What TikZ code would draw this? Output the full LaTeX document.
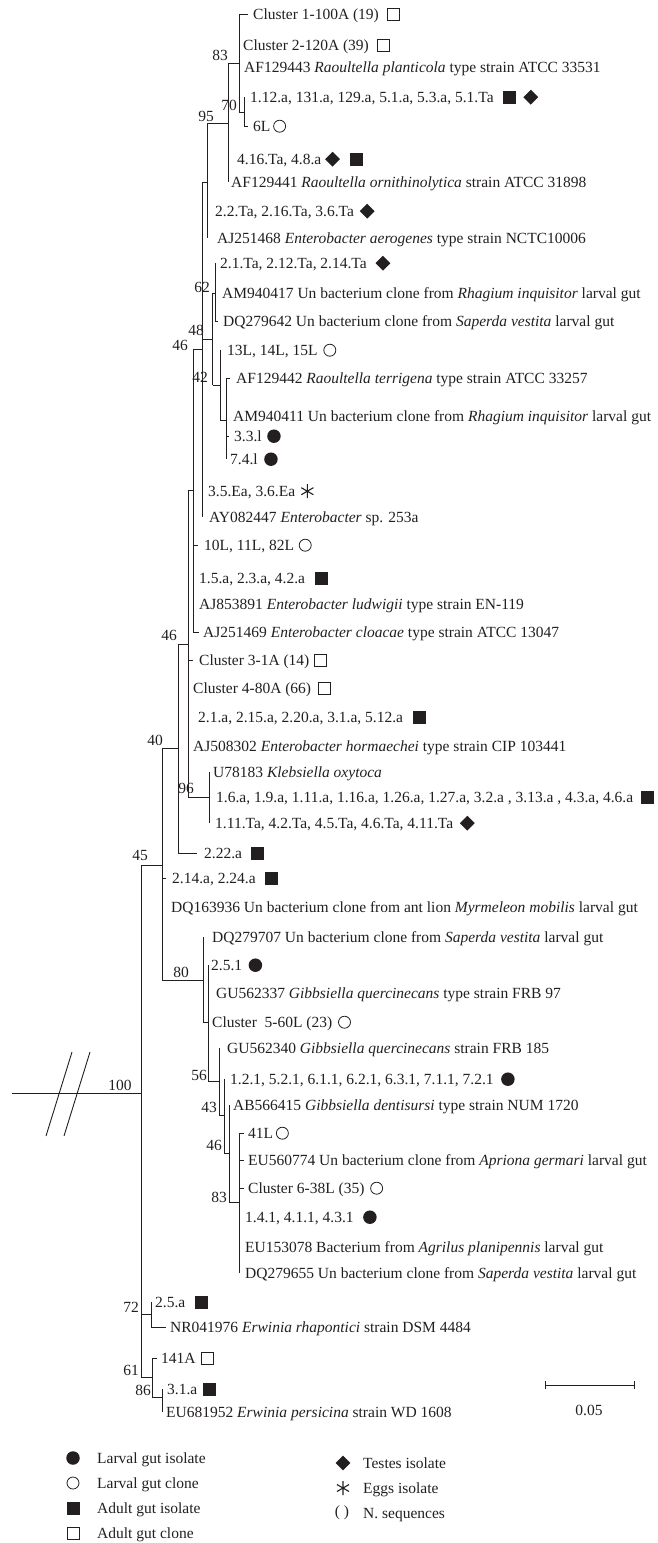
\documentclass[tikz,border=0pt]{standalone}
\usepackage{fontspec}
\setmainfont{Liberation Serif}
\usetikzlibrary{shapes.geometric}
\definecolor{ink}{HTML}{231F20}
\newcommand\tsym[4]{\node[#1] (#2) at ([xshift=#3pt,yshift=5pt]#4.base east) {};}
\begin{document}
\begin{tikzpicture}[x=1pt,y=-1pt,
  br/.style={draw=ink, line width=0.9pt},
  tip/.style={anchor=base west, inner sep=0pt, yshift=-5.2pt, font=\fontsize{15.5}{18}\selectfont, text=ink},
  bs/.style={inner sep=0pt, font=\fontsize{15.5}{18}\selectfont, text=ink},
  fsq/.style={rectangle, fill=ink, minimum size=13pt, inner sep=0pt},
  osq/.style={rectangle, draw=ink, line width=0.8pt, minimum size=12pt, inner sep=0pt},
  fci/.style={circle, fill=ink, minimum size=13.5pt, inner sep=0pt},
  oci/.style={circle, draw=ink, line width=0.8pt, minimum size=12pt, inner sep=0pt},
  dia/.style={diamond, fill=ink, minimum size=15pt, inner sep=0pt, aspect=1},
  ast/.pic={\draw[ink, line width=1.1pt] (0,-7) -- (0,7) (-6.06,-3.5) -- (6.06,3.5) (-6.06,3.5) -- (6.06,-3.5);}
]
\useasboundingbox (0,0) rectangle (657,1543);

% ---------- internal nodes ----------
\coordinate (n83) at (239.3,63);
\coordinate (n70) at (244.3,112);
\coordinate (n95) at (228.7,123);
\coordinate (nA) at (207.7,182);
\coordinate (nB) at (202.7,349);
\coordinate (n48) at (212.7,339);
\coordinate (n62) at (215,293);
\coordinate (n42) at (220.7,385);
\coordinate (nY) at (226,420);
\coordinate (nC) at (193.3,490);
\coordinate (n46b) at (188.3,644);
\coordinate (n96) at (209,797);
\coordinate (n40) at (178.3,748);
\coordinate (n45) at (162.3,865);
\coordinate (n80) at (203.3,980);
\coordinate (nD) at (208.3,1022);
\coordinate (n56) at (219.3,1081);
\coordinate (n43) at (224.3,1115);
\coordinate (n46c) at (229.3,1153);
\coordinate (n83b) at (239.3,1202);
\coordinate (root) at (141.7,1093);
\coordinate (rootL) at (12,1093);
\coordinate (n72) at (151,1314);
\coordinate (n61) at (152,1377);
\coordinate (n86) at (162,1397);

% ---------- tips ----------
\coordinate (e1) at (248,14);   \node[tip] (t1) at (253,14) {Cluster 1-100A (19)};
\coordinate (e2) at (239.3,45); \node[tip] (t2) at (243,45) {Cluster 2-120A (39)};
\coordinate (e3) at (239.3,67); \node[tip] (t3) at (244,67) {AF129443 \textit{Raoultella planticola} type strain ATCC 33531};
\coordinate (e4) at (244.3,97); \node[tip] (t4) at (250,97) {1.12.a, 131.a, 129.a, 5.1.a, 5.3.a, 5.1.Ta};
\coordinate (e5) at (248,126);  \node[tip] (t5) at (253,126) {6L};
\coordinate (e6) at (228.7,159); \node[tip] (t6) at (237,159) {4.16.Ta, 4.8.a};
\coordinate (e7) at (228.7,182); \node[tip] (t7) at (231,182) {AF129441 \textit{Raoultella ornithinolytica} strain ATCC 31898};
\coordinate (e8) at (207.7,211); \node[tip] (t8) at (215,211) {2.2.Ta, 2.16.Ta, 3.6.Ta};
\coordinate (e9) at (207.7,238); \node[tip] (t9) at (217,238) {AJ251468 \textit{Enterobacter aerogenes} type strain NCTC10006};
\coordinate (e10) at (215,263); \node[tip] (t10) at (220,263) {2.1.Ta, 2.12.Ta, 2.14.Ta};
\coordinate (e11) at (215,293); \node[tip] (t11) at (222,293) {AM940417 Un bacterium clone from \textit{Rhagium inquisitor} larval gut};
\coordinate (e12) at (218,321); \node[tip] (t12) at (223,321) {DQ279642 Un bacterium clone from \textit{Saperda vestita} larval gut};
\coordinate (e13) at (220.7,350); \node[tip] (t13) at (227,350) {13L, 14L, 15L};
\coordinate (e14) at (230,378); \node[tip] (t14) at (236,378) {AF129442 \textit{Raoultella terrigena} type strain ATCC 33257};
\coordinate (e15) at (226,416); \node[tip] (t15) at (233,416) {AM940411 Un bacterium clone from \textit{Rhagium inquisitor} larval gut};
\coordinate (e16) at (229,436); \node[tip] (t16) at (234,436) {3.3.l};
\coordinate (e17) at (226,459); \node[tip] (t17) at (230,459) {7.4.l};
\coordinate (e18) at (202.7,491); \node[tip] (t18) at (208,491) {3.5.Ea, 3.6.Ea};
\coordinate (e19) at (202.7,517); \node[tip] (t19) at (209,517) {AY082447 \textit{Enterobacter} sp. 253a};
\coordinate (e20) at (198,545); \node[tip] (t20) at (204,545) {10L, 11L, 82L};
\coordinate (e21) at (193.3,578); \node[tip] (t21) at (199,578) {1.5.a, 2.3.a, 4.2.a};
\coordinate (e22) at (193.3,604); \node[tip] (t22) at (199,604) {AJ853891 \textit{Enterobacter ludwigii} type strain EN-119};
\coordinate (e23) at (199,632); \node[tip] (t23) at (203,632) {AJ251469 \textit{Enterobacter cloacae} type strain ATCC 13047};
\coordinate (e24) at (193,660); \node[tip] (t24) at (199,660) {Cluster 3-1A (14)};
\coordinate (e25) at (188.3,688); \node[tip] (t25) at (193,688) {Cluster 4-80A (66)};
\coordinate (e26) at (188.3,717); \node[tip] (t26) at (198,717) {2.1.a, 2.15.a, 2.20.a, 3.1.a, 5.12.a};
\coordinate (e27) at (188.3,746); \node[tip] (t27) at (193,746) {AJ508302 \textit{Enterobacter hormaechei} type strain CIP 103441};
\coordinate (e28) at (209,772); \node[tip] (t28) at (213,772) {U78183 \textit{Klebsiella oxytoca}};
\coordinate (e29) at (209,797); \node[tip] (t29) at (216,797) {1.6.a, 1.9.a, 1.11.a, 1.16.a, 1.26.a, 1.27.a, 3.2.a , 3.13.a , 4.3.a, 4.6.a};
\coordinate (e30) at (209,823); \node[tip] (t30) at (215,823) {1.11.Ta, 4.2.Ta, 4.5.Ta, 4.6.Ta, 4.11.Ta};
\coordinate (e31) at (197,853); \node[tip] (t31) at (204,853) {2.22.a};
\coordinate (e32) at (166,878); \node[tip] (t32) at (172,878) {2.14.a, 2.24.a};
\coordinate (e33) at (162.3,907); \node[tip] (t33) at (171,907) {DQ163936 Un bacterium clone from ant lion \textit{Myrmeleon mobilis} larval gut};
\coordinate (e34) at (203.3,937); \node[tip] (t34) at (212,937) {DQ279707 Un bacterium clone from \textit{Saperda vestita} larval gut};
\coordinate (e35) at (208.3,965); \node[tip] (t35) at (211,965) {2.5.1};
\coordinate (e36) at (208.3,993); \node[tip] (t36) at (216,993) {GU562337 \textit{Gibbsiella quercinecans} type strain FRB 97};
\coordinate (e37) at (208.3,1022); \node[tip] (t37) at (212,1022) {Cluster\ \ 5-60L (23)};
\coordinate (e38) at (219.3,1048); \node[tip] (t38) at (227,1048) {GU562340 \textit{Gibbsiella quercinecans} strain FRB 185};
\coordinate (e39) at (224.3,1079); \node[tip] (t39) at (230,1079) {1.2.1, 5.2.1, 6.1.1, 6.2.1, 6.3.1, 7.1.1, 7.2.1};
\coordinate (e40) at (229.3,1105); \node[tip] (t40) at (233,1105) {AB566415 \textit{Gibbsiella dentisursi} type strain NUM 1720};
\coordinate (e41) at (244,1133); \node[tip] (t41) at (248,1133) {41L};
\coordinate (e42) at (244,1160); \node[tip] (t42) at (248,1160) {EU560774 Un bacterium clone from \textit{Apriona germari} larval gut};
\coordinate (e43) at (244,1188); \node[tip] (t43) at (248,1188) {Cluster 6-38L (35)};
\coordinate (e44) at (239.3,1217); \node[tip] (t44) at (245,1217) {1.4.1, 4.1.1, 4.3.1};
\coordinate (e45) at (239.3,1247); \node[tip] (t45) at (245,1247) {EU153078 Bacterium from \textit{Agrilus planipennis} larval gut};
\coordinate (e46) at (239.3,1273); \node[tip] (t46) at (245,1273) {DQ279655 Un bacterium clone from \textit{Saperda vestita} larval gut};
\coordinate (e47) at (151,1302); \node[tip] (t47) at (155,1302) {2.5.a};
\coordinate (e48) at (166,1327); \node[tip] (t48) at (170,1327) {NR041976 \textit{Erwinia rhapontici} strain DSM 4484};
\coordinate (e49) at (157,1358); \node[tip] (t49) at (161,1358) {141A};
\coordinate (e50) at (162,1389); \node[tip] (t50) at (167,1389) {3.1.a};
\coordinate (e51) at (162,1412); \node[tip] (t51) at (166,1412) {EU681952 \textit{Erwinia persicina} strain WD 1608};

% ---------- symbols ----------
\tsym{osq}{s1}{14}{t1}
\tsym{osq}{s2}{14}{t2}
\tsym{fsq}{s4a}{16}{t4}
\tsym{dia}{s4b}{37}{t4}
\tsym{oci}{s5}{9}{t5}
\tsym{dia}{s6a}{11}{t6}
\tsym{fsq}{s6b}{35}{t6}
\tsym{dia}{s8}{13}{t8}
\tsym{dia}{s10}{16}{t10}
\tsym{oci}{s13}{12}{t13}
\tsym{fci}{s16}{12}{t16}
\tsym{fci}{s17}{13}{t17}
\coordinate (s18) at ([xshift=12pt,yshift=5pt]t18.base east); \pic at (s18) {ast};
\tsym{oci}{s20}{11}{t20}
\tsym{fsq}{s21}{16}{t21}
\tsym{osq}{s24}{11}{t24}
\tsym{osq}{s25}{13}{t25}
\tsym{fsq}{s26}{16}{t26}
\tsym{fsq}{s29}{14}{t29}
\tsym{dia}{s30}{14}{t30}
\tsym{fsq}{s31}{15}{t31}
\tsym{fsq}{s32}{16}{t32}
\tsym{fci}{s35}{13}{t35}
\tsym{oci}{s37}{12}{t37}
\tsym{fci}{s39}{14}{t39}
\tsym{oci}{s41}{9}{t41}
\tsym{oci}{s43}{12}{t43}
\tsym{fci}{s44}{16}{t44}
\tsym{fsq}{s47}{16}{t47}
\tsym{osq}{s49}{12}{t49}
\tsym{fsq}{s50}{12}{t50}

% ---------- branches ----------
\draw[br] (n83 |- e1) -- (n83 |- n70);
\draw[br] (n83 |- e1) -- (e1);
\draw[br] (n83 |- n70) -- (n70);
\draw[br] (n70 |- e4) -- (n70 |- e5) -- (e5);
\draw[br] (n95 |- n83) -- (n95 |- e7);
\draw[br] (n95 |- n83) -- (n83);
\draw[br] (nA |- n95) -- (nA |- e9);
\draw[br] (nA |- n95) -- (n95);
\draw[br] (nB |- nA) -- (nB |- e19);
\draw[br] (nB |- nA) -- (nA);
\draw[br] (nB |- n48) -- (n48);
\draw[br] (n48 |- n62) -- (n48 |- n42);
\draw[br] (n48 |- n62) -- (n62);
\draw[br] (n48 |- n42) -- (n42);
\draw[br] (n62 |- e10) -- (n62 |- e12) -- (e12);
\draw[br] (n42 |- e13) -- (n42 |- nY) -- (nY);
\draw[br] (nY |- e14) -- (nY |- e17);
\draw[br] (nY |- e14) -- (e14);
\draw[br] (nY |- e16) -- (e16);
\draw[br] (nC |- nB) -- (nC |- e23) -- (e23);
\draw[br] (nC |- nB) -- (nB);
\draw[br] (nC |- e20) -- (e20);
\draw[br] (n46b |- nC) -- (n46b |- n96) -- (n96);
\draw[br] (n46b |- nC) -- (nC);
\draw[br] (n46b |- e24) -- (e24);
\draw[br] (n96 |- e28) -- (n96 |- e30);
\draw[br] (n40 |- n46b) -- (n40 |- e31) -- (e31);
\draw[br] (n40 |- n46b) -- (n46b);
\draw[br] (n45 |- n40) -- (n45 |- n80) -- (n80);
\draw[br] (n45 |- n40) -- (n40);
\draw[br] (n45 |- e32) -- (e32);
\draw[br] (n80 |- e34) -- (n80 |- nD) -- (nD);
\draw[br] (nD |- e35) -- (nD |- n56) -- (n56);
\draw[br] (n56 |- e38) -- (n56 |- n43) -- (n43);
\draw[br] (n43 |- e39) -- (n43 |- n46c) -- (n46c);
\draw[br] (n46c |- e40) -- (n46c |- n83b) -- (n83b);
\draw[br] (n83b |- e41) -- (n83b |- e46);
\draw[br] (n83b |- e41) -- (e41);
\draw[br] (n83b |- e42) -- (e42);
\draw[br] (n83b |- e43) -- (e43);
\draw[br] (rootL) -- (root);
\draw[br] (root |- n45) -- (root |- n61) -- (n61);
\draw[br] (root |- n45) -- (n45);
\draw[br] (root |- n72) -- (n72);
\draw[br] (n72 |- e47) -- (n72 |- e48) -- (e48);
\draw[br] (n61 |- e49) -- (n61 |- n86) -- (n86);
\draw[br] (n61 |- e49) -- (e49);
\draw[br] (n86 |- e50) -- (n86 |- e51);

% break marks on root
\coordinate (k1a) at (72,1052); \coordinate (k1b) at (46,1136);
\coordinate (k2a) at (90,1052); \coordinate (k2b) at (64,1136);
\draw[br] (k1a) -- (k1b);
\draw[br] (k2a) -- (k2b);

% ---------- bootstrap values ----------
\node[bs] (b83) at (220,55) {83};
\node[bs] (b70) at (229,105) {70};
\node[bs] (b95) at (206,116) {95};
\node[bs] (b62) at (202,287) {62};
\node[bs] (b48) at (196,330) {48};
\node[bs] (b46a) at (180,345) {46};
\node[bs] (b42) at (200,377) {42};
\node[bs] (b46b) at (169,635) {46};
\node[bs] (b40) at (155,740) {40};
\node[bs] (b96) at (186,788) {96};
\node[bs] (b45) at (140,855) {45};
\node[bs] (b80) at (181,972) {80};
\node[bs] (b56) at (199,1075) {56};
\node[bs] (b43) at (209,1107) {43};
\node[bs] (b46c) at (214,1145) {46};
\node[bs] (b83b) at (219,1197) {83};
\node[bs] (b100) at (120,1085) {100};
\node[bs] (b72) at (131,1307) {72};
\node[bs] (b61) at (131,1370) {61};
\node[bs] (b86) at (143,1390) {86};

% ---------- scale bar ----------
\coordinate (sbL) at (545,1385); \coordinate (sbR) at (634,1385);
\draw[br] (sbL) -- (sbR);
\draw[br] ([yshift=4pt]sbL) -- ([yshift=-4pt]sbL);
\draw[br] ([yshift=4pt]sbR) -- ([yshift=-4pt]sbR);
\node[bs] (sbt) at (589,1410) {0.05};

% ---------- legend ----------
\node[fci] (L1) at (73,1458) {}; \node[tip] (L1t) at (97,1458) {Larval gut isolate};
\node[oci] (L2) at (73,1483) {}; \node[tip] (L2t) at (97,1483) {Larval gut clone};
\node[fsq] (L3) at (73,1508) {}; \node[tip] (L3t) at (97,1508) {Adult gut isolate};
\node[osq] (L4) at (73,1533) {}; \node[tip] (L4t) at (97,1533) {Adult gut clone};
\node[dia] (R1) at (343,1463) {}; \node[tip] (R1t) at (363,1463) {Testes isolate};
\coordinate (R2) at (343,1488); \pic at (R2) {ast}; \node[tip] (R2t) at (363,1488) {Eggs isolate};
\node[bs] (R3) at (342,1513) {( )}; \node[tip] (R3t) at (363,1513) {N. sequences};
\end{tikzpicture}
\end{document}
